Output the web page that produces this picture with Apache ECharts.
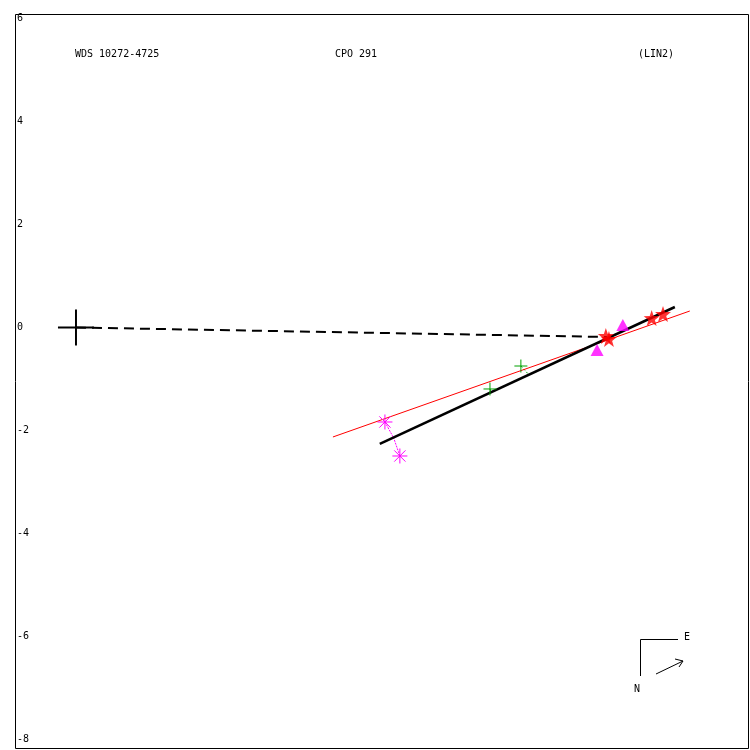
<!DOCTYPE html>
<html>
<head>
<meta charset="utf-8">
<script src="https://cdn.jsdelivr.net/npm/echarts@6/dist/echarts.min.js"></script>
<style>html,body{margin:0;padding:0;background:#fff;}#c{width:750px;height:750px;}</style>
</head>
<body>
<div id="c"></div>
<script>
const yTicks = [-8, -6, -4, -2, 0, 2, 4, 6];
const primary = [[0, 0]];
const radiusLine = [[0, 0], [10.31, -0.184]];
const starPts = [[10.29, -0.165], [10.35, -0.223], [11.18, 0.184], [11.40, 0.262]];
const trianglePts = [[10.12, -0.437], [10.62, 0.049]];
const plusPts = [[8.04, -1.194], [8.64, -0.748]];
const plusFeet = [[8.06, -1.252], [8.80, -0.922]];
const asteriskPts = [[6.00, -1.835], [6.29, -2.495]];
const asteriskFeet = [[6.17, -2.146], [6.17, -2.146]];
const orbitLine = [[5.90, -2.262], [11.63, 0.398]];
const fitLine = [[4.99, -2.126], [11.92, 0.320]];

const FONT = '"DejaVu Sans Mono", monospace';
const chart = echarts.init(document.getElementById('c'), null, {renderer: 'canvas'});

function segRows(a, b) { return a.map((p, i) => [p[0], p[1], b[i][0], b[i][1]]); }

function crossRender(half, color, width, diag) {
  return function (params, api) {
    const c = api.coord([api.value(0), api.value(1)]);
    const kids = [
      {type: 'line', shape: {x1: c[0] - half, y1: c[1], x2: c[0] + half, y2: c[1]}, style: {stroke: color, lineWidth: width}},
      {type: 'line', shape: {x1: c[0], y1: c[1] - half, x2: c[0], y2: c[1] + half}, style: {stroke: color, lineWidth: width}}
    ];
    if (diag) {
      const d = half * 0.75;
      kids.push({type: 'line', shape: {x1: c[0] - d, y1: c[1] - d, x2: c[0] + d, y2: c[1] + d}, style: {stroke: color, lineWidth: width}});
      kids.push({type: 'line', shape: {x1: c[0] - d, y1: c[1] + d, x2: c[0] + d, y2: c[1] - d}, style: {stroke: color, lineWidth: width}});
    }
    return {type: 'group', children: kids};
  };
}

function segRender(color, width, dash) {
  return function (params, api) {
    const a = api.coord([api.value(0), api.value(1)]);
    const b = api.coord([api.value(2), api.value(3)]);
    return {type: 'line', shape: {x1: a[0], y1: a[1], x2: b[0], y2: b[1]},
      style: {stroke: color, lineWidth: width, lineDash: dash}};
  };
}

const starPath = 'path://M0,-10 L2.35,-3.24 L9.51,-3.09 L3.8,1.24 L5.88,8.09 L0,4 L-5.88,8.09 L-3.8,1.24 L-9.51,-3.09 L-2.35,-3.24 Z';

chart.setOption({
  animation: false,
  backgroundColor: '#fff',
  grid: {left: 15, right: 1, top: 14, bottom: 2, show: false},
  xAxis: {type: 'value', min: -1.184, max: 13.07, axisLine: {show: false}, axisTick: {show: false}, axisLabel: {show: false}, splitLine: {show: false}},
  yAxis: {type: 'value', min: -8.165, max: 6.087,
    axisLine: {show: false}, axisTick: {show: false}, splitLine: {show: false},
    axisLabel: {inside: true, margin: 2, customValues: yTicks, color: '#000', fontFamily: FONT, fontSize: 10,
      formatter: v => String(v)}},
  series: [
    {type: 'line', data: radiusLine, symbol: 'none', lineStyle: {color: '#000', width: 2, type: [10, 6]}, z: 2},
    {type: 'line', data: fitLine, symbol: 'none', lineStyle: {color: '#ff0000', width: 1}, z: 2},
    {type: 'line', data: orbitLine, symbol: 'none', lineStyle: {color: '#000', width: 2.5}, z: 3},
    {type: 'custom', data: segRows(plusPts, plusFeet), renderItem: segRender('#00a000', 1, [2, 2]), z: 2},
    {type: 'custom', data: segRows(asteriskPts, asteriskFeet), renderItem: segRender('#ff00ff', 1, [2, 1]), z: 2},
    {type: 'custom', data: primary, renderItem: crossRender(18, '#000', 2, false), z: 4},
    {type: 'custom', data: plusPts, renderItem: crossRender(6.5, '#00a000', 1, false), z: 4},
    {type: 'custom', data: asteriskPts, renderItem: crossRender(7.5, '#ff00ff', 1, true), z: 4},
    {type: 'scatter', data: trianglePts, symbol: 'triangle', symbolSize: [13, 12], itemStyle: {color: '#ff00ff'}, z: 4},
    {type: 'scatter', data: starPts, symbol: starPath, symbolSize: 16, itemStyle: {color: '#ff0000'}, z: 5}
  ],
  graphic: [
    {type: 'rect', shape: {x: 15.5, y: 14.5, width: 733, height: 734}, style: {stroke: '#000', fill: null, lineWidth: 1}, silent: true, z: 10},
    {type: 'text', left: 75, top: 49, style: {text: 'WDS 10272-4725', font: '10px ' + FONT, fill: '#000'}},
    {type: 'text', left: 335, top: 49, style: {text: 'CPO 291', font: '10px ' + FONT, fill: '#000'}},
    {type: 'text', left: 638, top: 49, style: {text: '(LIN2)', font: '10px ' + FONT, fill: '#000'}},
    {type: 'polyline', shape: {points: [[678, 639.5], [640.5, 639.5], [640.5, 676]]}, style: {stroke: '#000', fill: null, lineWidth: 1}},
    {type: 'text', left: 684, top: 632, style: {text: 'E', font: '10px ' + FONT, fill: '#000'}},
    {type: 'text', left: 634, top: 684, style: {text: 'N', font: '10px ' + FONT, fill: '#000'}},
    {type: 'line', shape: {x1: 656, y1: 674, x2: 683, y2: 661}, style: {stroke: '#000', lineWidth: 1}},
    {type: 'polyline', shape: {points: [[675, 659], [683, 661], [679, 667]]}, style: {stroke: '#000', fill: null, lineWidth: 1}}
  ]
});
</script>
</body>
</html>
